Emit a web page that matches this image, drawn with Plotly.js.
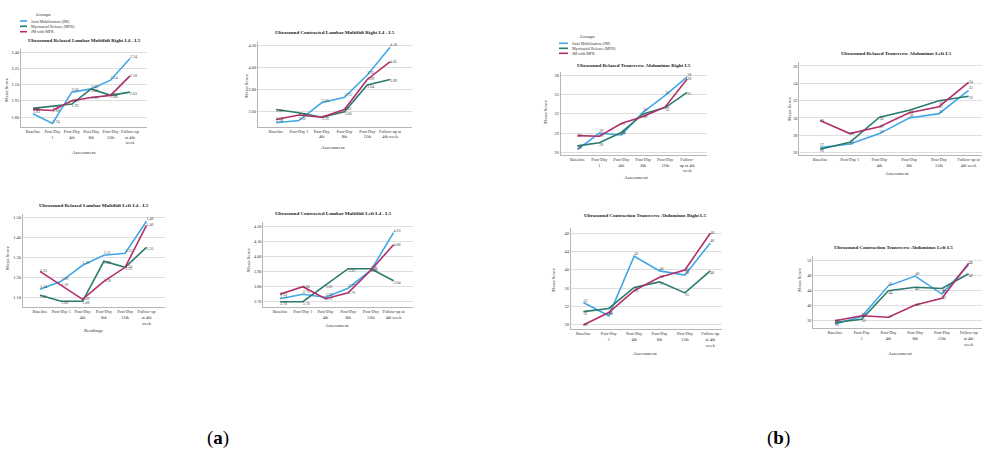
<!DOCTYPE html>
<html>
<head>
<meta charset="utf-8">
<script src="https://cdn.plot.ly/plotly-3.0.1.min.js"></script>
<style>html,body{margin:0;padding:0;background:#fff;}#chart{width:982px;height:452px;}</style>
</head>
<body>
<div id="chart"></div>
<script>
// ---------------- DATA ----------------
const categories = ["Baseline","Post-Day 1","Post-Day 4th","Post-Day 8th","Post-Day 12th","Follow-up at 4th week"];
const groups = ["Joint Mobilization (JM)","Myofascial Release (MFR)","JM with MFR"];
const groupColors = ["#41A8E8","#2A7A6E","#B22E6A"];

const panelTitles = [
  "Ultrasound Relaxed Lumbar Multifidi Right L4 - L5",
  "Ultrasound Contracted Lumbar Multifidi Right L4 - L5",
  "Ultrasound Relaxed Lumbar Multifidi Left L4 - L5",
  "Ultrasound Contracted Lumbar Multifidi Left L4 - L5",
  "Ultrasound Relaxed Transverse Abdominus Right L5",
  "Ultrasound Relaxed Transverse Abdominus Left L5",
  "Ultrasound Contraction Transverse Abdominus Right L5",
  "Ultrasound Contraction Transverse Abdominus Left L5"
];
const xTitles = ["Assessment","Assessment","Readings","Assessment","Assessment","Assessment","Assessment","Assessment"];
const yTitle = "Mean Score";

const tickA = ["Baseline","Post-Day<br>1","Post-Day<br>4th","Post-Day<br>8th","Post-Day<br>12th","Follow-up<br>at 4th<br>week"];
const tickB = ["Baseline","Post-Day 1","Post-Day<br>4th","Post-Day<br>8th","Post-Day<br>12th","Follow-up at<br>4th week"];
const tickC = ["Baseline","Post-Day 1","Post-Day<br>4th","Post-Day<br>8th","Post-Day<br>12th","Follow-up<br>at 4th<br>week"];
const tickD = ["Baseline","Post-Day<br>1","Post-Day<br>4th","Post-Day<br>8th","Post-Day<br>12th","Follow-<br>up at 4th<br>week"];

const yTicks1 = [1.80,1.95,2.10,2.25,2.40];
const yTicks2 = [3.60,3.80,4.00,4.20];
const yTicks3 = [1.10,1.20,1.30,1.40,1.50];
const yTicks4 = [3.70,3.80,3.90,4.00,4.10,4.20];
const yTicks5 = [26,29,32,35,38];
const yTicks6 = [26,28,30,32,34,36];
const yTicks7 = [28,32,36,40,44,48];
const yTicks8 = [36,40,44,48,52];

// panel 1
const p1_jm    = [1.83,1.74,2.03,2.06,2.14,2.34];
const p1_mfr   = [1.88,1.90,1.92,2.06,2.00,2.03];
const p1_jmmfr = [1.87,1.86,1.95,1.98,2.00,2.18];
// panel 2
const p2_jm    = [3.50,3.52,3.68,3.73,3.93,4.18];
const p2_mfr   = [3.62,3.59,3.55,3.60,3.84,3.89];
const p2_jmmfr = [3.53,3.57,3.55,3.62,3.89,4.05];
// panel 3
const p3_jm    = [1.14,1.18,1.26,1.31,1.32,1.48];
const p3_mfr   = [1.11,1.08,1.08,1.28,1.25,1.35];
const p3_jmmfr = [1.23,1.16,1.09,1.18,1.25,1.46];
// panel 4
const p4_jm    = [3.72,3.75,3.73,3.79,3.91,4.16];
const p4_mfr   = [3.70,3.70,3.81,3.92,3.92,3.84];
const p4_jmmfr = [3.75,3.80,3.72,3.76,3.91,4.08];
// panel 5
const p5_jm    = [26.4,29.0,28.7,32.3,34.9,37.8];
const p5_mfr   = [27.0,27.5,29.1,32.0,33.0,35.4];
const p5_jmmfr = [28.6,28.5,30.5,31.6,33.1,37.5];
// panel 6
const p6_jm    = [26.6,27.0,28.2,30.0,30.5,33.2];
const p6_mfr   = [26.4,27.2,30.1,30.9,32.0,32.5];
const p6_jmmfr = [29.7,28.2,29.0,30.6,31.3,34.1];
// panel 7
const p7_jm    = [32.9,30.0,43.0,39.8,38.9,45.9];
const p7_mfr   = [30.9,31.6,36.2,37.4,35.0,39.8];
const p7_jmmfr = [28.0,30.7,35.5,38.4,40.0,48.0];
// panel 8
const p8_jm    = [35.1,37.1,45.3,47.9,43.1,50.9];
const p8_mfr   = [35.5,36.4,44.0,44.9,44.6,48.5];
const p8_jmmfr = [36.0,37.3,36.9,40.2,42.0,51.3];

// ---------------- LAYOUT GEOMETRY ----------------
const W = 982, H = 452;
const panels = [
  {series:[p1_jm,p1_mfr,p1_jmmfr], ticks:tickA, yt:yTicks1, fmt:2, box:[21,147,49,127],    xr:[-0.62,5.88], yr:[1.708,2.428], title:[84,41],  xt:[84,152],  yt_:[7,90]},
  {series:[p2_jm,p2_mfr,p2_jmmfr], ticks:tickB, yt:yTicks2, fmt:2, box:[258,412,42,126.7], xr:[-0.79,5.96], yr:[3.465,4.227], title:[335,33], xt:[333,147], yt_:[247,86]},
  {series:[p3_jm,p3_mfr,p3_jmmfr], ticks:tickC, yt:yTicks3, fmt:2, box:[22.7,165,214,307.3], xr:[-0.81,5.87], yr:[1.05,1.5165], title:[94,205], xt:[93,330], yt_:[7,258]},
  {series:[p4_jm,p4_mfr,p4_jmmfr], ticks:tickB, yt:yTicks4, fmt:2, box:[263.3,413.3,222,307], xr:[-0.74,5.87], yr:[3.665,4.231], title:[333,213], xt:[337,325], yt_:[248,260]},
  {series:[p5_jm,p5_mfr,p5_jmmfr], ticks:tickD, yt:yTicks5, fmt:0, box:[560.7,706.7,72,155], xr:[-0.76,5.89], yr:[25.57,38.58], title:[634,65], xt:[636,177], yt_:[546,112]},
  {series:[p6_jm,p6_mfr,p6_jmmfr], ticks:tickB, yt:yTicks6, fmt:0, box:[799.3,982,62,155], xr:[-0.70,5.45], yr:[25.73,36.46], title:[896,53], xt:[897,173], yt_:[789,109]},
  {series:[p7_jm,p7_mfr,p7_jmmfr], ticks:tickA, yt:yTicks7, fmt:0, box:[570.7,721.7,228,329.3], xr:[-0.5,5.45], yr:[27.05,49.16], title:[645,215], xt:[645,353], yt_:[553,280]},
  {series:[p8_jm,p8_mfr,p8_jmmfr], ticks:tickA, yt:yTicks8, fmt:0, box:[813.3,982,256,328.3], xr:[-0.81,5.5], yr:[33.97,53.25], title:[893,247], xt:[900,353], yt_:[799,280]}
];

const FONT = "Liberation Serif, DejaVu Serif, serif";
const textPos = ["top right","bottom right","middle right"];

const data = [];
const layout = {
  width: W, height: H,
  margin: {l:0, r:0, t:0, b:0},
  paper_bgcolor: "#ffffff",
  plot_bgcolor: "#ffffff",
  showlegend: false,
  font: {family: FONT, color: "#333", size: 5},
  annotations: [],
  shapes: []
};

const px = x => x / W;
const py = y => 1 - y / H;

panels.forEach((p, i) => {
  const n = i === 0 ? "" : String(i + 1);
  const xa = "x" + n, ya = "y" + n;
  p.series.forEach((vals, g) => {
    data.push({
      type: "scatter",
      mode: "lines+text",
      x: categories,
      y: vals,
      xaxis: xa, yaxis: ya,
      name: groups[g],
      line: {color: groupColors[g], width: 1.6},
      text: vals.map(v => v.toFixed(p.fmt)),
      textposition: textPos[g],
      textfont: {family: FONT, size: 4, color: "#444"},
      cliponaxis: false,
      hoverinfo: "skip"
    });
  });
  layout["xaxis" + n] = {
    domain: [px(p.box[0]), px(p.box[1])],
    anchor: ya,
    type: "category",
    categoryorder: "array",
    categoryarray: categories,
    range: p.xr,
    tickvals: categories,
    ticktext: p.ticks,
    showgrid: false,
    showline: true, linecolor: "#b5b5b5", linewidth: 1,
    ticks: "", zeroline: false,
    tickfont: {family: FONT, size: 4.3, color: "#333"},
    fixedrange: true
  };
  layout["yaxis" + n] = {
    domain: [py(p.box[3]), py(p.box[2])],
    anchor: xa,
    range: p.yr,
    tickvals: p.yt,
    tickformat: p.fmt ? ".2f" : "d",
    showgrid: true, gridcolor: "#dedede", gridwidth: 1,
    showline: true, linecolor: "#b5b5b5", linewidth: 1,
    ticks: "", zeroline: false,
    tickfont: {family: FONT, size: 4.3, color: "#333"},
    fixedrange: true
  };
  layout.annotations.push({
    text: "<b>" + panelTitles[i] + "</b>", xref: "paper", yref: "paper",
    x: px(p.title[0]), y: py(p.title[1]), xanchor: "center", yanchor: "middle",
    showarrow: false, font: {family: FONT, size: 5, color: "#222"}
  });
  layout.annotations.push({
    text: xTitles[i], xref: "paper", yref: "paper",
    x: px(p.xt[0]), y: py(p.xt[1]), xanchor: "center", yanchor: "middle",
    showarrow: false, font: {family: FONT, size: 5, color: "#333"}
  });
  layout.annotations.push({
    text: yTitle, xref: "paper", yref: "paper", textangle: -90,
    x: px(p.yt_[0]), y: py(p.yt_[1]), xanchor: "center", yanchor: "middle",
    showarrow: false, font: {family: FONT, size: 5, color: "#333"}
  });
});

// manual group legends for (a) and (b)
const legends = [
  {title:[43,15], rows:[21,26.3,31.7], line:[20,27], text:29},
  {title:[587,37], rows:[43.3,48.3,53.3], line:[559,568], text:570}
];
legends.forEach(L => {
  layout.annotations.push({
    text: "Groups", xref: "paper", yref: "paper",
    x: px(L.title[0]), y: py(L.title[1]), xanchor: "center", yanchor: "middle",
    showarrow: false, font: {family: FONT, size: 5, color: "#333"}
  });
  groups.forEach((g, k) => {
    layout.shapes.push({
      type: "line", xref: "paper", yref: "paper",
      x0: px(L.line[0]), x1: px(L.line[1]), y0: py(L.rows[k]), y1: py(L.rows[k]),
      line: {color: groupColors[k], width: 1.6}
    });
    layout.annotations.push({
      text: g, xref: "paper", yref: "paper",
      x: px(L.text), y: py(L.rows[k]), xanchor: "left", yanchor: "middle",
      showarrow: false, font: {family: FONT, size: 4, color: "#333"}
    });
  });
});

// figure part labels
[["(<b>a</b>)", 218], ["(<b>b</b>)", 778]].forEach(([t, x]) => {
  layout.annotations.push({
    text: t, xref: "paper", yref: "paper",
    x: px(x), y: py(438), xanchor: "center", yanchor: "middle",
    showarrow: false, font: {family: FONT, size: 19, color: "#000"}
  });
});

Plotly.newPlot("chart", data, layout, {displayModeBar: false, staticPlot: true});
</script>
</body>
</html>
